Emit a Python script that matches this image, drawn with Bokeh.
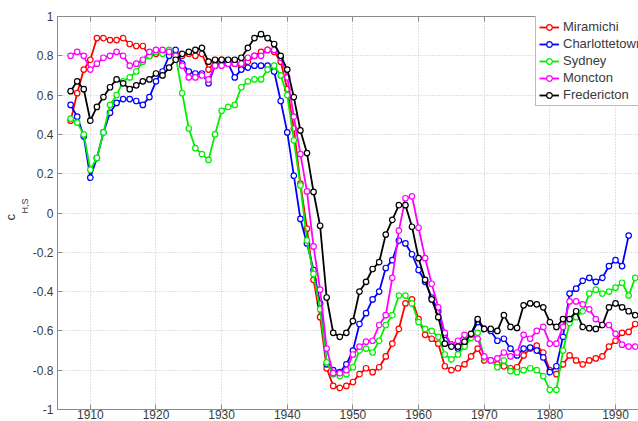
from bokeh.plotting import figure
from bokeh.models import Range1d, FixedTicker, Legend, LegendItem, Title, LinearAxis
from bokeh.embed import file_html
from bokeh.resources import INLINE

years = list(range(1907, 1994))

miramichi = [0.47, 0.61, 0.73, 0.78, 0.89, 0.89, 0.88, 0.88, 0.89, 0.86,
             0.85, 0.85, 0.80, 0.81, 0.82, 0.82, 0.81, 0.80, 0.81, 0.80,
             0.81, 0.73, 0.77, 0.78, 0.77, 0.76, 0.74, 0.77, 0.80, 0.82,
             0.83, 0.82, 0.77, 0.63, 0.43, 0.15, -0.08, -0.34, -0.53, -0.79,
             -0.88, -0.89, -0.88, -0.86, -0.82, -0.79, -0.81, -0.785, -0.73, -0.665,
             -0.59, -0.46, -0.44, -0.54, -0.62, -0.64, -0.665, -0.78, -0.80, -0.79,
             -0.77, -0.73, -0.69, -0.75, -0.75, -0.77, -0.78, -0.79, -0.785, -0.725,
             -0.69, -0.675, -0.71, -0.80, -0.82, -0.77, -0.725, -0.75, -0.77, -0.75,
             -0.74, -0.73, -0.68, -0.65, -0.61, -0.605, -0.565]

charlottetown = [0.55, 0.49, 0.39, 0.18, 0.28, 0.41, 0.51, 0.56, 0.58, 0.58,
                 0.57, 0.55, 0.59, 0.67, 0.72, 0.80, 0.83, 0.76, 0.72, 0.71,
                 0.71, 0.66, 0.75, 0.76, 0.76, 0.69, 0.73, 0.74, 0.75, 0.75,
                 0.75, 0.72, 0.57, 0.41, 0.19, -0.03, -0.155, -0.29, -0.46, -0.77,
                 -0.80, -0.81, -0.77, -0.70, -0.565, -0.51, -0.44, -0.40, -0.28, -0.24,
                 -0.14, -0.155, -0.21, -0.29, -0.35, -0.43, -0.50, -0.62, -0.67, -0.69,
                 -0.665, -0.62, -0.555, -0.59, -0.60, -0.65, -0.64, -0.69, -0.725, -0.69,
                 -0.685, -0.70, -0.735, -0.81, -0.78, -0.63, -0.41, -0.385, -0.345, -0.33,
                 -0.35, -0.33, -0.27, -0.24, -0.27, -0.115]

sydney = [0.48, 0.46, 0.40, 0.22, 0.28, 0.41, 0.55, 0.60, 0.67, 0.69,
          0.72, 0.77, 0.80, 0.82, 0.81, 0.83, 0.80, 0.61, 0.43, 0.33,
          0.30, 0.27, 0.40, 0.52, 0.54, 0.55, 0.64, 0.67, 0.68, 0.68,
          0.73, 0.75, 0.70, 0.60, 0.37, 0.14, -0.14, -0.31, -0.49, -0.76,
          -0.82, -0.83, -0.82, -0.785, -0.70, -0.69, -0.71, -0.65, -0.57, -0.52,
          -0.42, -0.42, -0.46, -0.555, -0.59, -0.60, -0.63, -0.72, -0.745, -0.72,
          -0.68, -0.635, -0.61, -0.735, -0.75, -0.785, -0.75, -0.805, -0.81, -0.80,
          -0.79, -0.80, -0.83, -0.90, -0.90, -0.70, -0.56, -0.53, -0.50, -0.41,
          -0.39, -0.41, -0.40, -0.38, -0.355, -0.42, -0.33]

moncton = [0.80, 0.82, 0.80, 0.73, 0.76, 0.79, 0.80, 0.82, 0.80, 0.75,
           0.76, 0.78, 0.82, 0.83, 0.83, 0.82, 0.80, 0.75, 0.69, 0.69,
           0.70, 0.68, 0.75, 0.75, 0.76, 0.76, 0.76, 0.79, 0.80, 0.80,
           0.83, 0.83, 0.79, 0.69, 0.49, 0.30, 0.11, -0.17, -0.39, -0.69,
           -0.815, -0.815, -0.80, -0.72, -0.68, -0.655, -0.65, -0.57, -0.52, -0.33,
           -0.09, 0.075, 0.085, -0.075, -0.23, -0.36, -0.48, -0.61, -0.67, -0.65,
           -0.62, -0.62, -0.64, -0.73, -0.75, -0.74, -0.71, -0.73, -0.71, -0.62,
           -0.64, -0.60, -0.58, -0.665, -0.665, -0.58, -0.45, -0.45, -0.465, -0.49,
           -0.54, -0.57, -0.57, -0.615, -0.67, -0.68, -0.68]

fredericton = [0.62, 0.67, 0.63, 0.47, 0.54, 0.59, 0.64, 0.68, 0.66, 0.63,
               0.65, 0.67, 0.68, 0.71, 0.70, 0.74, 0.78, 0.81, 0.82, 0.83,
               0.84, 0.77, 0.78, 0.78, 0.78, 0.78, 0.79, 0.84, 0.89, 0.91,
               0.89, 0.86, 0.80, 0.73, 0.59, 0.42, 0.305, 0.107, -0.065, -0.43,
               -0.61, -0.63, -0.61, -0.55, -0.40, -0.35, -0.285, -0.25, -0.11, -0.035,
               0.04, 0.04, -0.07, -0.23, -0.34, -0.44, -0.53, -0.665, -0.68, -0.68,
               -0.655, -0.615, -0.54, -0.59, -0.59, -0.60, -0.52, -0.58, -0.585, -0.47,
               -0.46, -0.465, -0.48, -0.555, -0.58, -0.54, -0.54, -0.50, -0.58, -0.586,
               -0.59, -0.57, -0.48, -0.46, -0.48, -0.50, -0.52]

series_names = ["Miramichi", "Charlottetown", "Sydney", "Moncton", "Fredericton"]
series_values = [miramichi, charlottetown, sydney, moncton, fredericton]
series_colors = ["#ff0000", "#0000ff", "#00ee00", "#ff00ff", "#000000"]

x_ticks = [1910, 1920, 1930, 1940, 1950, 1960, 1970, 1980, 1990]
y_ticks = [-1, -0.8, -0.6, -0.4, -0.2, 0, 0.2, 0.4, 0.6, 0.8, 1]
y_tick_labels = ["-1", "-0.8", "-0.6", "-0.4", "-0.2", "0", "0.2", "0.4", "0.6", "0.8", "1"]

FONT = "Liberation Sans"
AXIS_COLOR = "#8a8a8a"
TEXT_COLOR = "#3a3a3a"

p = figure(width=638, height=421, output_backend="svg", toolbar_location=None,
           x_range=Range1d(1905, 1993.5), y_range=Range1d(-1, 1),
           min_border_left=55, min_border_right=0, min_border_top=16, min_border_bottom=0)
p.outline_line_color = None
p.background_fill_color = "white"
p.border_fill_color = "white"

p.xaxis.ticker = FixedTicker(ticks=x_ticks)
p.yaxis.ticker = FixedTicker(ticks=y_ticks)
p.yaxis.major_label_overrides = {t: s for t, s in zip(y_ticks, y_tick_labels)}

for ax in [p.xaxis[0], p.yaxis[0]]:
    ax.axis_line_color = AXIS_COLOR
    ax.major_tick_line_color = AXIS_COLOR
    ax.major_tick_in = 5
    ax.major_tick_out = 0
    ax.minor_tick_line_color = None
    ax.major_label_text_font = FONT
    ax.major_label_text_font_size = "12px"
    ax.major_label_text_color = TEXT_COLOR
p.xaxis.major_label_standoff = 0
p.yaxis.major_label_standoff = 4

top = LinearAxis(ticker=FixedTicker(ticks=x_ticks), axis_line_color=AXIS_COLOR,
                 major_tick_line_color=AXIS_COLOR, major_tick_in=5, major_tick_out=0,
                 minor_tick_line_color=None, major_label_text_alpha=0,
                 major_label_text_font_size="1px", major_label_standoff=0)
p.add_layout(top, "above")

for g in [p.xgrid[0], p.ygrid[0]]:
    g.grid_line_color = "#c4c4c4"
    g.grid_line_dash = "1 2"
    g.grid_line_width = 1
p.xgrid.ticker = FixedTicker(ticks=x_ticks)
p.ygrid.ticker = FixedTicker(ticks=y_ticks)

items = []
for name, vals, col in zip(series_names, series_values, series_colors):
    xs = years[:len(vals)]
    lr = p.line(xs, vals, line_color=col, line_width=1.8, line_join="round")
    sr = p.scatter(xs, vals, marker="circle", size=5.5, line_color=col,
                   fill_color="white", line_width=1.2)
    items.append(LegendItem(label=name, renderers=[lr, sr]))

legend = Legend(items=items, location=(478, 303), padding=3, spacing=2,
                glyph_width=20, glyph_height=14, label_height=14, label_standoff=4,
                label_text_font=FONT, label_text_font_size="13px",
                label_text_color=TEXT_COLOR, border_line_color="#7a7a7a",
                border_line_width=1, background_fill_color="white",
                background_fill_alpha=1, margin=0)
p.add_layout(legend, "center")

# y-axis label: "c" with subscript "H,S"
sub_title = Title(text="H,S", align="left", offset=196, standoff=0,
                  text_font=FONT, text_font_size="9px", text_font_style="normal",
                  text_color=TEXT_COLOR)
c_title = Title(text="c", align="left", offset=189, standoff=0,
                text_font=FONT, text_font_size="13px", text_font_style="normal",
                text_color=TEXT_COLOR)
p.add_layout(sub_title, "left")
p.add_layout(c_title, "left")

open("out.html", "w").write(file_html(p, INLINE))
